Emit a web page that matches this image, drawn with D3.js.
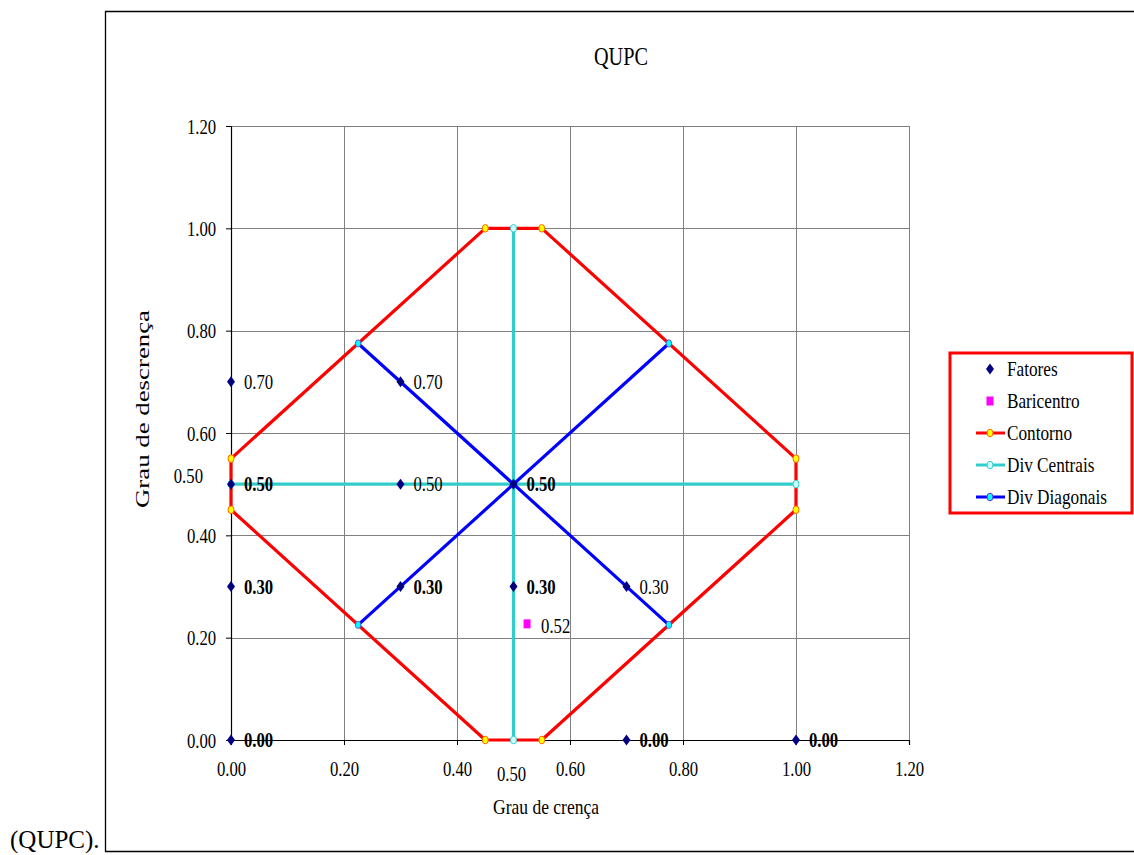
<!DOCTYPE html>
<html>
<head>
<meta charset="utf-8">
<script src="https://cdn.jsdelivr.net/npm/d3@7"></script>
<style>
  html, body { margin: 0; padding: 0; background: #fff; }
  svg { display: block; }
  text { font-family: "Liberation Serif", "Times New Roman", serif; fill: #000; }
</style>
</head>
<body>
<svg id="chart" width="1134" height="855"></svg>
<script>
// ---------------- data ----------------
const chartTitle = "QUPC";
const xTitle = "Grau de crença";
const yTitle = "Grau de descrença";
const captionText = "(QUPC).";

const xTickValues = [0, 0.2, 0.4, 0.6, 0.8, 1.0, 1.2];
const yTickValues = [0, 0.2, 0.4, 0.6, 0.8, 1.0, 1.2];
const xTickLabels = ["0.00", "0.20", "0.40", "0.60", "0.80", "1.00", "1.20"];
const yTickLabels = ["0.00", "0.20", "0.40", "0.60", "0.80", "1.00", "1.20"];

// Fatores (points with data labels)
const fatoresX = [0, 0.3, 0, 0.3, 0.5, 0, 0.3, 0.5, 0.7, 0, 0.7, 1.0];
const fatoresY = [0.7, 0.7, 0.5, 0.5, 0.5, 0.3, 0.3, 0.3, 0.3, 0, 0, 0];
const fatoresLabels = ["0.70", "0.70", "0.50", "0.50", "0.50", "0.30", "0.30", "0.30", "0.30", "0.00", "0.00", "0.00"];
const fatoresBold = [false, false, true, false, true, true, true, true, false, true, true, true];

// Baricentro
const baricentroX = [0.524];
const baricentroY = [0.227];
const baricentroLabels = ["0.52"];

// Contorno (octagon)
const contornoX = [0.45, 0.55, 1.0, 1.0, 0.55, 0.45, 0, 0, 0.45];
const contornoY = [1.0, 1.0, 0.55, 0.45, 0, 0, 0.45, 0.55, 1.0];

// Div Centrais (two segments)
const centraisX = [[0, 1.0], [0.5, 0.5]];
const centraisY = [[0.5, 0.5], [0, 1.0]];
const centraisLabels = ["0.50", "0.50"]; // labels of (0,0.5) and (0.5,0)

// Div Diagonais (two segments)
const diagonaisX = [[0.225, 0.775], [0.225, 0.775]];
const diagonaisY = [[0.775, 0.225], [0.225, 0.775]];

const legendNames = ["Fatores", "Baricentro", "Contorno", "Div Centrais", "Div Diagonais"];

// ---------------- styles ----------------
const C_FAT = "#000080", C_BAR = "#FF00FF", C_CONT = "#FF0000", C_CENT = "#33CCCC", C_DIAG = "#0000FF";
const FS = 22;   // font size of chart texts
const SX = 0.76; // horizontal compression of glyphs

const svg = d3.select("#chart");

// outer frame
svg.append("path")
  .attr("d", "M1140,11.5 H105.5 V851.5 H1140")
  .attr("fill", "none").attr("stroke", "#000").attr("stroke-width", 1.3);

// caption
svg.append("text").attr("x", 10).attr("y", 848)
  .attr("font-size", 25).text(captionText);

const x = d3.scaleLinear().domain([0, 1.2]).range([231, 909]);
const y = d3.scaleLinear().domain([0, 1.2]).range([740, 126]);

// grid
const grid = svg.append("g");
grid.selectAll("line.v").data(xTickValues.slice(1)).join("line")
  .attr("x1", d => Math.round(x(d)) + 0.5).attr("x2", d => Math.round(x(d)) + 0.5)
  .attr("y1", y(1.2)).attr("y2", y(0))
  .attr("stroke", "#808080").attr("stroke-width", 1);
grid.selectAll("line.h").data(yTickValues.slice(1)).join("line")
  .attr("y1", d => Math.round(y(d)) + 0.5).attr("y2", d => Math.round(y(d)) + 0.5)
  .attr("x1", x(0)).attr("x2", x(1.2))
  .attr("stroke", "#808080").attr("stroke-width", 1);

// axes
const yAxis = svg.append("g").attr("transform", `translate(${x(0)},0)`)
  .call(d3.axisLeft(y).tickValues(yTickValues).tickFormat((d, i) => yTickLabels[i]).tickSizeOuter(0).tickSize(5).tickPadding(14.5));
const xAxis = svg.append("g").attr("transform", `translate(0,${y(0)})`)
  .call(d3.axisBottom(x).tickValues(xTickValues).tickFormat((d, i) => xTickLabels[i]).tickSizeOuter(0).tickSize(5).tickPadding(15));
[yAxis, xAxis].forEach(a => {
  a.selectAll("path.domain").attr("stroke", "#000").attr("stroke-width", 1.2);
  a.selectAll(".tick line").attr("stroke", "#000");
  a.selectAll("text").attr("font-size", FS).attr("font-family", "Liberation Serif").attr("fill", "#000")
    .attr("transform", `scale(${SX},1)`);
});

// line generator
const line = d3.line().x(d => x(d[0])).y(d => y(d[1]));
const zip = (xs, ys) => xs.map((v, i) => [v, ys[i]]);

// Contorno
svg.append("path").datum(zip(contornoX, contornoY))
  .attr("d", line).attr("fill", "none").attr("stroke", C_CONT).attr("stroke-width", 3.2).attr("stroke-linejoin", "round");
svg.append("g").selectAll("ellipse").data(zip(contornoX, contornoY).slice(0, -1)).join("ellipse")
  .attr("cx", d => x(d[0])).attr("cy", d => y(d[1])).attr("rx", 3).attr("ry", 3.8)
  .attr("fill", "#FFFF00").attr("stroke", "#FF6600").attr("stroke-width", 1);

// Div Centrais
centraisX.forEach((xs, k) => {
  svg.append("path").datum(zip(xs, centraisY[k]))
    .attr("d", line).attr("fill", "none").attr("stroke", C_CENT).attr("stroke-width", 3.2);
});
centraisX.forEach((xs, k) => {
  svg.append("g").selectAll("ellipse").data(zip(xs, centraisY[k])).join("ellipse")
    .attr("cx", d => x(d[0])).attr("cy", d => y(d[1])).attr("rx", 3).attr("ry", 3.8)
    .attr("fill", "#CCFFFF").attr("stroke", "#33CCCC").attr("stroke-width", 1);
});

// Div Diagonais
diagonaisX.forEach((xs, k) => {
  svg.append("path").datum(zip(xs, diagonaisY[k]))
    .attr("d", line).attr("fill", "none").attr("stroke", C_DIAG).attr("stroke-width", 3.2);
});
diagonaisX.forEach((xs, k) => {
  svg.append("g").selectAll("ellipse").data(zip(xs, diagonaisY[k])).join("ellipse")
    .attr("cx", d => x(d[0])).attr("cy", d => y(d[1])).attr("rx", 2.8).attr("ry", 3.6)
    .attr("fill", "#00FFFF").attr("stroke", "#6633CC").attr("stroke-width", 0.8);
});

// diamond path
const diamond = (cx, cy, w, h) => `M${cx},${cy - h} L${cx + w},${cy} L${cx},${cy + h} L${cx - w},${cy} Z`;

// Fatores
const fat = zip(fatoresX, fatoresY);
svg.append("g").selectAll("path").data(fat).join("path")
  .attr("d", d => diamond(x(d[0]), y(d[1]), 4, 5.5)).attr("fill", C_FAT);

// Baricentro
const bar = zip(baricentroX, baricentroY);
svg.append("g").selectAll("rect").data(bar).join("rect")
  .attr("x", d => x(d[0]) - 3.5).attr("y", d => y(d[1]) - 4.5).attr("width", 7).attr("height", 9)
  .attr("fill", C_BAR);

// text helper with horizontal compression
function ctext(g, tx, ty, str, opts = {}) {
  return g.append("text")
    .attr("transform", `translate(${tx},${ty}) scale(${opts.sx ?? SX},1)`)
    .attr("font-size", opts.size ?? FS)
    .attr("font-weight", opts.bold ? "bold" : "normal")
    .attr("text-anchor", opts.anchor ?? "start")
    .attr("dominant-baseline", "central")
    .text(str);
}

const labels = svg.append("g");
fat.forEach((d, i) => {
  ctext(labels, x(d[0]) + 13, y(d[1]), fatoresLabels[i], { bold: fatoresBold[i] });
});
bar.forEach((d, i) => {
  ctext(labels, x(d[0]) + 14, y(d[1]) + 2, baricentroLabels[i]);
});
// Div Centrais data labels
ctext(labels, x(centraisX[0][0]) - 28, y(centraisY[0][0]) - 8, centraisLabels[0], { anchor: "end" });
ctext(labels, x(centraisX[1][0]) - 2, y(centraisY[1][0]) + 34, centraisLabels[1], { anchor: "middle" });

// titles
svg.append("text").attr("x", 621).attr("y", 65).attr("text-anchor", "middle")
  .attr("font-size", 26).attr("textLength", 54).attr("lengthAdjust", "spacingAndGlyphs").text(chartTitle);
svg.append("text").attr("x", 546).attr("y", 814).attr("text-anchor", "middle")
  .attr("font-size", 21).attr("textLength", 106).attr("lengthAdjust", "spacingAndGlyphs").text(xTitle);
svg.append("text").attr("transform", "translate(149,409) rotate(-90)").attr("text-anchor", "middle")
  .attr("font-size", 19).attr("textLength", 198).attr("lengthAdjust", "spacingAndGlyphs").text(yTitle);

// legend
const lg = svg.append("g");
lg.append("rect").attr("x", 950).attr("y", 353).attr("width", 182).attr("height", 160)
  .attr("fill", "#fff").attr("stroke", C_CONT).attr("stroke-width", 3);
const rowY = d3.range(legendNames.length).map(i => 369 + i * 32);
const mx = 990;
legendNames.forEach((name, i) => {
  const ry = rowY[i];
  if (i === 0) {
    lg.append("path").attr("d", diamond(mx, ry, 4, 5.5)).attr("fill", C_FAT);
  } else if (i === 1) {
    lg.append("rect").attr("x", mx - 3.5).attr("y", ry - 4.5).attr("width", 7).attr("height", 9).attr("fill", C_BAR);
  } else {
    const col = [null, null, C_CONT, C_CENT, C_DIAG][i];
    const fill = [null, null, "#FFFF00", "#CCFFFF", "#00FFFF"][i];
    const st = [null, null, "#FF6600", "#33CCCC", "#6633CC"][i];
    lg.append("line").attr("x1", 976).attr("x2", 1005).attr("y1", ry).attr("y2", ry)
      .attr("stroke", col).attr("stroke-width", 3);
    lg.append("ellipse").attr("cx", mx).attr("cy", ry).attr("rx", 3).attr("ry", 3.8)
      .attr("fill", fill).attr("stroke", st).attr("stroke-width", 1);
  }
  ctext(lg, 1007, ry, name, { sx: 0.82, size: 21 });
});
</script>
</body>
</html>
